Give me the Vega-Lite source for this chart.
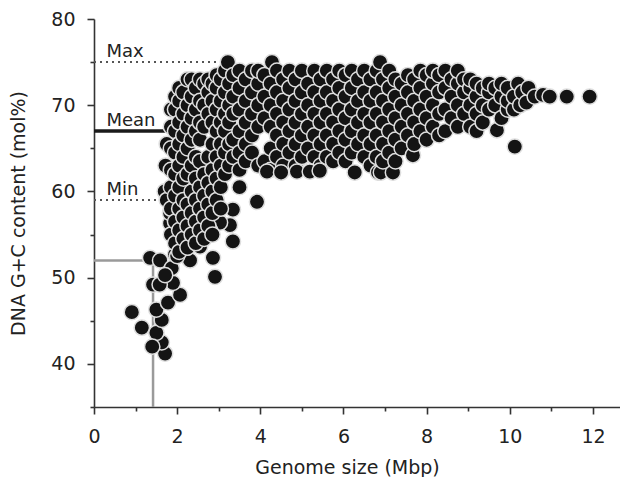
{
  "$schema": "https://vega.github.io/schema/vega-lite/v6.json",
  "width": 526,
  "height": 388,
  "autosize": "none",
  "padding": {"left": 94, "top": 19, "right": 0, "bottom": 70},
  "background": "white",
  "config": {
    "view": {"stroke": null},
    "axis": {
      "grid": false,
      "domainColor": "#333333",
      "domainWidth": 1.6,
      "tickColor": "#333333",
      "tickWidth": 1.6,
      "labelFont": "DejaVu Sans",
      "labelFontSize": 19,
      "labelColor": "#222222",
      "titleFont": "DejaVu Sans",
      "titleFontSize": 19,
      "titleFontWeight": "normal",
      "titleColor": "#222222"
    }
  },
  "datasets": {
    "grey": [
      {"genome": 0, "genome2": 1.42, "gc": 52, "gc2": 52},
      {"genome": 1.42, "genome2": 1.42, "gc": 35, "gc2": 52}
    ],
    "mean": [
      {"genome": 0, "genome2": 2.2, "gc": 67, "gc2": 67}
    ],
    "dotted": [
      {"genome": 0, "genome2": 3.2, "gc": 75, "gc2": 75},
      {"genome": 0, "genome2": 2.0, "gc": 59, "gc2": 59}
    ],
    "labels": [
      {"genome": 0.3, "gc": 75, "label": "Max"},
      {"genome": 0.3, "gc": 67, "label": "Mean"},
      {"genome": 0.3, "gc": 59, "label": "Min"}
    ],
    "pts": [
      {"genome":0.91,"gc":46},{"genome":1.15,"gc":44.2},{"genome":1.71,"gc":41.2},{"genome":1.63,"gc":42.5},{"genome":1.5,"gc":43.6},{"genome":1.4,"gc":42},{"genome":1.63,"gc":45.1},{"genome":1.5,"gc":46.3},{"genome":1.78,"gc":47.1},{"genome":2.07,"gc":48},{"genome":1.9,"gc":49.4},{"genome":1.42,"gc":49.2},{"genome":1.58,"gc":49.2},{"genome":1.35,"gc":52.3},{"genome":1.59,"gc":52},{"genome":1.87,"gc":51.1},{"genome":1.71,"gc":50.3},{"genome":1.95,"gc":52.7},{"genome":2.31,"gc":52},{"genome":2.91,"gc":50.1},{"genome":2.86,"gc":52.3},{"genome":3.34,"gc":54.2},{"genome":2.55,"gc":53.6},{"genome":2.24,"gc":53.5},{"genome":2.0,"gc":52.5},{"genome":3.27,"gc":56.1},{"genome":3.34,"gc":57.9},{"genome":3.03,"gc":56.4},{"genome":3.92,"gc":58.8},{"genome":1.83,"gc":56.3},{"genome":1.83,"gc":57.5},{"genome":2.07,"gc":54.4},{"genome":2.47,"gc":54.7},{"genome":2.79,"gc":55.5},{"genome":2.47,"gc":57.5},
      {"genome":1.7,"gc":60},{"genome":1.72,"gc":63},{"genome":1.75,"gc":65.5},{"genome":1.75,"gc":59},
      {"genome":1.85,"gc":55},{"genome":1.85,"gc":58},{"genome":1.85,"gc":60.5},{"genome":1.85,"gc":62.5},{"genome":1.85,"gc":65},{"genome":1.85,"gc":67.5},{"genome":1.85,"gc":69.5},
      {"genome":1.95,"gc":54},{"genome":1.95,"gc":56.5},{"genome":1.95,"gc":59.5},{"genome":1.95,"gc":62},{"genome":1.95,"gc":64.5},{"genome":1.95,"gc":67},{"genome":1.95,"gc":69.5},{"genome":1.95,"gc":71},
      {"genome":2.05,"gc":53},{"genome":2.05,"gc":55.5},{"genome":2.05,"gc":58},{"genome":2.05,"gc":60.5},{"genome":2.05,"gc":63},{"genome":2.05,"gc":65.5},{"genome":2.05,"gc":68},{"genome":2.05,"gc":70.5},{"genome":2.05,"gc":72},
      {"genome":2.15,"gc":54.5},{"genome":2.15,"gc":57},{"genome":2.15,"gc":59},{"genome":2.15,"gc":61.5},{"genome":2.15,"gc":64},{"genome":2.15,"gc":66.5},{"genome":2.15,"gc":69},{"genome":2.15,"gc":71.5},
      {"genome":2.25,"gc":53.5},{"genome":2.25,"gc":56},{"genome":2.25,"gc":58.5},{"genome":2.25,"gc":62},{"genome":2.25,"gc":65},{"genome":2.25,"gc":67.5},{"genome":2.25,"gc":70},{"genome":2.25,"gc":73},
      {"genome":2.35,"gc":55},{"genome":2.35,"gc":57.5},{"genome":2.35,"gc":60},{"genome":2.35,"gc":63},{"genome":2.35,"gc":66},{"genome":2.35,"gc":68.5},{"genome":2.35,"gc":71},{"genome":2.35,"gc":73},
      {"genome":2.45,"gc":54},{"genome":2.45,"gc":56.5},{"genome":2.45,"gc":59},{"genome":2.45,"gc":61.5},{"genome":2.45,"gc":64},{"genome":2.45,"gc":67},{"genome":2.45,"gc":69.5},{"genome":2.45,"gc":72},
      {"genome":2.55,"gc":55.5},{"genome":2.55,"gc":58},{"genome":2.55,"gc":60.5},{"genome":2.55,"gc":63.5},{"genome":2.55,"gc":66},{"genome":2.55,"gc":68},{"genome":2.55,"gc":70.5},{"genome":2.55,"gc":73},
      {"genome":2.65,"gc":54.5},{"genome":2.65,"gc":57},{"genome":2.65,"gc":59.5},{"genome":2.65,"gc":62},{"genome":2.65,"gc":67.5},{"genome":2.65,"gc":70},{"genome":2.65,"gc":72.5},
      {"genome":2.75,"gc":56},{"genome":2.75,"gc":58.5},{"genome":2.75,"gc":61},{"genome":2.75,"gc":64},{"genome":2.75,"gc":69},{"genome":2.75,"gc":71.5},{"genome":2.75,"gc":73},
      {"genome":2.85,"gc":55},{"genome":2.85,"gc":57.5},{"genome":2.85,"gc":60},{"genome":2.85,"gc":62.5},{"genome":2.85,"gc":65.5},{"genome":2.85,"gc":68},{"genome":2.85,"gc":70.5},{"genome":2.85,"gc":72.5},
      {"genome":2.95,"gc":59},{"genome":2.95,"gc":61.5},{"genome":2.95,"gc":64},{"genome":2.95,"gc":67},{"genome":2.95,"gc":69.5},{"genome":2.95,"gc":72},{"genome":2.95,"gc":73.5},
      {"genome":3.05,"gc":58},{"genome":3.05,"gc":60.5},{"genome":3.05,"gc":63},{"genome":3.05,"gc":65.5},{"genome":3.05,"gc":68},{"genome":3.05,"gc":70.5},{"genome":3.05,"gc":73},
      {"genome":3.15,"gc":62},{"genome":3.15,"gc":64.5},{"genome":3.15,"gc":67},{"genome":3.15,"gc":69},{"genome":3.15,"gc":71.5},{"genome":3.15,"gc":74},
      {"genome":3.25,"gc":63},{"genome":3.25,"gc":65.5},{"genome":3.25,"gc":68},{"genome":3.25,"gc":70},{"genome":3.25,"gc":72.5},{"genome":3.22,"gc":75},
      {"genome":3.35,"gc":64},{"genome":3.35,"gc":66},{"genome":3.35,"gc":69},{"genome":3.35,"gc":71},{"genome":3.35,"gc":73.5},
      {"genome":3.5,"gc":60.5},{"genome":3.5,"gc":62.5},{"genome":3.5,"gc":64.5},{"genome":3.5,"gc":67},{"genome":3.5,"gc":69.5},{"genome":3.5,"gc":72},{"genome":3.5,"gc":74},
      {"genome":3.65,"gc":63.5},{"genome":3.65,"gc":65.5},{"genome":3.65,"gc":68},{"genome":3.65,"gc":70.5},{"genome":3.65,"gc":73},
      {"genome":3.8,"gc":64.5},{"genome":3.8,"gc":66.5},{"genome":3.8,"gc":69},{"genome":3.8,"gc":71.5},{"genome":3.8,"gc":74},
      {"genome":3.95,"gc":63},{"genome":3.95,"gc":67.5},{"genome":3.95,"gc":70},{"genome":3.95,"gc":72.5},{"genome":3.95,"gc":74},
      {"genome":4.1,"gc":63.5},{"genome":4.1,"gc":68.5},{"genome":4.1,"gc":71},{"genome":4.1,"gc":73.5},
      {"genome":4.25,"gc":62.5},{"genome":4.25,"gc":65},{"genome":4.25,"gc":67.5},{"genome":4.25,"gc":70},{"genome":4.25,"gc":72.5},{"genome":4.28,"gc":75},
      {"genome":4.4,"gc":64},{"genome":4.4,"gc":66.5},{"genome":4.4,"gc":69},{"genome":4.4,"gc":71.5},{"genome":4.4,"gc":74},
      {"genome":4.55,"gc":63},{"genome":4.55,"gc":65.5},{"genome":4.55,"gc":68},{"genome":4.55,"gc":70.5},{"genome":4.55,"gc":73},
      {"genome":4.7,"gc":64.5},{"genome":4.7,"gc":67},{"genome":4.7,"gc":69.5},{"genome":4.7,"gc":72},{"genome":4.7,"gc":74},
      {"genome":4.85,"gc":63},{"genome":4.85,"gc":65.5},{"genome":4.85,"gc":68},{"genome":4.85,"gc":70.5},{"genome":4.85,"gc":73},
      {"genome":5.0,"gc":64},{"genome":5.0,"gc":66.5},{"genome":5.0,"gc":69},{"genome":5.0,"gc":71.5},{"genome":5.0,"gc":74},
      {"genome":5.15,"gc":65},{"genome":5.15,"gc":67.5},{"genome":5.15,"gc":70},{"genome":5.15,"gc":72.5},
      {"genome":5.3,"gc":64},{"genome":5.3,"gc":66.5},{"genome":5.3,"gc":69},{"genome":5.3,"gc":71.5},{"genome":5.3,"gc":74},
      {"genome":5.45,"gc":63},{"genome":5.45,"gc":65.5},{"genome":5.45,"gc":68},{"genome":5.45,"gc":70.5},{"genome":5.45,"gc":73},
      {"genome":4.16,"gc":62.3},{"genome":4.5,"gc":62.2},{"genome":4.88,"gc":62.3},{"genome":5.19,"gc":62.3},{"genome":5.43,"gc":62.4},
      {"genome":5.6,"gc":64},{"genome":5.6,"gc":66.5},{"genome":5.6,"gc":69},{"genome":5.6,"gc":71.5},{"genome":5.6,"gc":74},
      {"genome":5.75,"gc":63.5},{"genome":5.75,"gc":65.5},{"genome":5.75,"gc":68},{"genome":5.75,"gc":70.5},{"genome":5.75,"gc":73},
      {"genome":5.9,"gc":64.5},{"genome":5.9,"gc":67},{"genome":5.9,"gc":69.5},{"genome":5.9,"gc":72},{"genome":5.9,"gc":74},
      {"genome":6.05,"gc":63.5},{"genome":6.05,"gc":66},{"genome":6.05,"gc":68.5},{"genome":6.05,"gc":71},{"genome":6.05,"gc":73.5},
      {"genome":6.2,"gc":64.5},{"genome":6.2,"gc":67},{"genome":6.2,"gc":69.5},{"genome":6.2,"gc":72},{"genome":6.2,"gc":74},
      {"genome":6.27,"gc":62.2},
      {"genome":6.35,"gc":65.5},{"genome":6.35,"gc":68},{"genome":6.35,"gc":70.5},{"genome":6.35,"gc":73},
      {"genome":6.5,"gc":64},{"genome":6.5,"gc":66.5},{"genome":6.5,"gc":69},{"genome":6.5,"gc":71.5},{"genome":6.5,"gc":74},
      {"genome":6.65,"gc":63},{"genome":6.65,"gc":65.5},{"genome":6.65,"gc":68},{"genome":6.65,"gc":70.5},{"genome":6.65,"gc":73},
      {"genome":6.8,"gc":64},{"genome":6.8,"gc":66.5},{"genome":6.8,"gc":69},{"genome":6.8,"gc":71.5},{"genome":6.8,"gc":74},
      {"genome":6.83,"gc":62.2},{"genome":6.9,"gc":62.2},{"genome":6.88,"gc":75},{"genome":7.19,"gc":62.2},
      {"genome":6.95,"gc":63.5},{"genome":6.95,"gc":65.5},{"genome":6.95,"gc":68},{"genome":6.95,"gc":70.5},{"genome":6.95,"gc":73},
      {"genome":7.1,"gc":64.5},{"genome":7.1,"gc":67},{"genome":7.1,"gc":69.5},{"genome":7.1,"gc":72},{"genome":7.1,"gc":74},
      {"genome":7.25,"gc":63.5},{"genome":7.25,"gc":66},{"genome":7.25,"gc":68.5},{"genome":7.25,"gc":71},{"genome":7.25,"gc":73},
      {"genome":7.4,"gc":65},{"genome":7.4,"gc":67.5},{"genome":7.4,"gc":70},{"genome":7.4,"gc":72.5},
      {"genome":7.55,"gc":66.5},{"genome":7.55,"gc":69},{"genome":7.55,"gc":71.5},{"genome":7.55,"gc":73.5},
      {"genome":7.67,"gc":64.2},
      {"genome":7.7,"gc":65.5},{"genome":7.7,"gc":68},{"genome":7.7,"gc":70.5},{"genome":7.7,"gc":73},
      {"genome":7.85,"gc":67},{"genome":7.85,"gc":69.5},{"genome":7.85,"gc":72},{"genome":7.85,"gc":74},
      {"genome":8.0,"gc":66},{"genome":8.0,"gc":68.5},{"genome":8.0,"gc":71},{"genome":8.0,"gc":73.5},
      {"genome":8.15,"gc":67.5},{"genome":8.15,"gc":70},{"genome":8.15,"gc":72.5},{"genome":8.15,"gc":74},
      {"genome":8.3,"gc":66.5},{"genome":8.3,"gc":69},{"genome":8.3,"gc":71.5},{"genome":8.3,"gc":73.5},
      {"genome":8.45,"gc":67},{"genome":8.45,"gc":69.5},{"genome":8.45,"gc":72},{"genome":8.45,"gc":74},
      {"genome":8.6,"gc":68.5},{"genome":8.6,"gc":71},{"genome":8.6,"gc":73},
      {"genome":8.75,"gc":67.5},{"genome":8.75,"gc":70},{"genome":8.75,"gc":72.5},{"genome":8.75,"gc":74},
      {"genome":8.9,"gc":69},{"genome":8.9,"gc":71.5},{"genome":8.9,"gc":73},
      {"genome":9.05,"gc":67.5},{"genome":9.05,"gc":70},{"genome":9.05,"gc":72},{"genome":9.05,"gc":73},
      {"genome":9.2,"gc":67},{"genome":9.2,"gc":69},{"genome":9.2,"gc":71},{"genome":9.2,"gc":72.5},
      {"genome":9.35,"gc":68},{"genome":9.35,"gc":70},{"genome":9.35,"gc":72},
      {"genome":9.5,"gc":69.5},{"genome":9.5,"gc":71.5},{"genome":9.5,"gc":72.5},
      {"genome":9.69,"gc":67.1},{"genome":9.65,"gc":70},{"genome":9.65,"gc":72},
      {"genome":9.8,"gc":68.5},{"genome":9.8,"gc":71},{"genome":9.8,"gc":72.5},
      {"genome":9.95,"gc":69.5},{"genome":9.95,"gc":70.5},{"genome":9.95,"gc":72},
      {"genome":10.12,"gc":65.2},{"genome":10.1,"gc":69.5},{"genome":10.1,"gc":71},{"genome":10.2,"gc":72.5},
      {"genome":10.25,"gc":70},{"genome":10.3,"gc":71.5},
      {"genome":10.4,"gc":70.3},{"genome":10.45,"gc":72},
      {"genome":10.6,"gc":71},{"genome":10.8,"gc":71.2},{"genome":10.96,"gc":71},{"genome":11.37,"gc":71},{"genome":11.92,"gc":71}
    ]
  },
  "layer": [
    {
      "data": {"name": "grey"},
      "mark": {"type": "rule", "color": "#9a9a9a", "strokeWidth": 2.5},
      "encoding": {
        "x": {"field": "genome", "type": "quantitative", "title": "Genome size (Mbp)", "scale": {"domain": [0, 12.65], "nice": false, "zero": false}},
        "x2": {"field": "genome2"},
        "y": {"field": "gc", "type": "quantitative", "title": "DNA G+C content (mol%)", "scale": {"domain": [35, 80], "nice": false, "zero": false}},
        "y2": {"field": "gc2"}
      }
    },
    {
      "data": {"name": "mean"},
      "mark": {"type": "rule", "color": "#1a1a1a", "strokeWidth": 3.5},
      "encoding": {
        "x": {"field": "genome", "type": "quantitative", "title": "Genome size (Mbp)"},
        "x2": {"field": "genome2"},
        "y": {"field": "gc", "type": "quantitative", "title": "DNA G+C content (mol%)"},
        "y2": {"field": "gc2"}
      }
    },
    {
      "data": {"name": "dotted"},
      "mark": {"type": "rule", "color": "#555555", "strokeWidth": 2, "strokeDash": [2, 4]},
      "encoding": {
        "x": {"field": "genome", "type": "quantitative", "title": "Genome size (Mbp)"},
        "x2": {"field": "genome2"},
        "y": {"field": "gc", "type": "quantitative", "title": "DNA G+C content (mol%)"},
        "y2": {"field": "gc2"}
      }
    },
    {
      "data": {"name": "pts"},
      "mark": {"type": "point", "shape": "circle", "filled": true, "fill": "#141414", "stroke": "#dedede", "strokeWidth": 1.5, "size": 235, "opacity": 1},
      "encoding": {
        "x": {
          "field": "genome", "type": "quantitative", "title": "Genome size (Mbp)",
          "axis": {
            "values": [0,0.5,1,1.5,2,2.5,3,3.5,4,4.5,5,5.5,6,6.5,7,7.5,8,8.5,9,9.5,10,10.5,11,11.5,12,12.5],
            "labelExpr": "datum.value % 2 === 0 ? datum.label : ''",
            "tickSize": {"condition": {"test": "datum.value % 2 === 0", "value": 7}, "value": 4},
            "labelPadding": 13,
            "titlePadding": 12,
            "titleX": 253,
            "labelFlush": false,
            "labelOverlap": false
          }
        },
        "y": {
          "field": "gc", "type": "quantitative", "title": "DNA G+C content (mol%)",
          "axis": {
            "values": [35,40,45,50,55,60,65,70,75,80],
            "labelExpr": "datum.value % 10 === 0 ? datum.label : ''",
            "tickSize": {"condition": {"test": "datum.value % 10 === 0", "value": 7}, "value": 4},
            "labelPadding": 12,
            "titlePadding": 22,
            "labelFlush": false,
            "labelOverlap": false
          }
        }
      }
    },
    {
      "data": {"name": "labels"},
      "mark": {"type": "text", "align": "left", "baseline": "alphabetic", "dy": -5, "font": "DejaVu Sans", "fontSize": 18, "color": "#222222"},
      "encoding": {
        "x": {"field": "genome", "type": "quantitative", "title": "Genome size (Mbp)"},
        "y": {"field": "gc", "type": "quantitative", "title": "DNA G+C content (mol%)"},
        "text": {"field": "label"}
      }
    }
  ]
}
